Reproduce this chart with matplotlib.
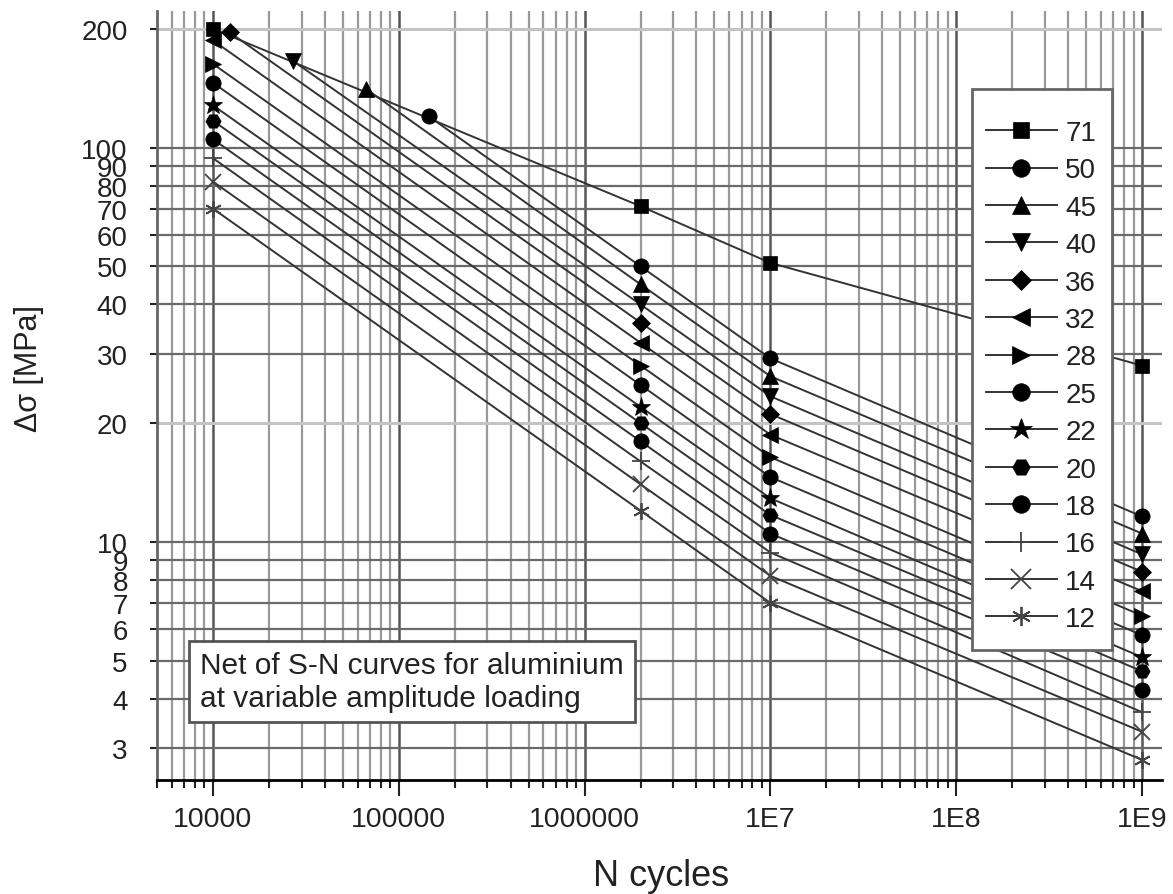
import numpy as np
import matplotlib
matplotlib.use("Agg")
import matplotlib.pyplot as plt
from matplotlib import ticker
from matplotlib.patches import Rectangle

plt.rcParams["font.family"] = ["Liberation Sans", "DejaVu Sans"]

# detail categories (legend order)
categories = ["71", "50", "45", "40", "36", "32", "28", "25", "22", "20", "18", "16", "14", "12"]

# first point of each curve (N, stress range) - high categories start on the 71 line
n_first = [1e4, 145000, 66500, 26900, 12300, 1e4, 1e4, 1e4, 1e4, 1e4, 1e4, 1e4, 1e4, 1e4]
s_first = [200, 120, 141, 166, 196, 187, 163, 146, 128, 117, 105, 94, 82, 70]

# knee points at 2E6, 1E7 and 1E9 cycles
n_knees = [2e6, 1e7, 1e9]
s_2e6 = [71, 50, 45, 40, 36, 32, 28, 25, 22, 20, 18, 16, 14, 12]
s_1e7 = [51, 29.2, 26.3, 23.4, 21.1, 18.7, 16.4, 14.6, 12.9, 11.7, 10.5, 9.4, 8.2, 7.0]
s_1e9 = [28, 11.6, 10.5, 9.3, 8.4, 7.5, 6.5, 5.8, 5.1, 4.7, 4.2, 3.7, 3.3, 2.8]

x_tick_vals = [1e4, 1e5, 1e6, 1e7, 1e8, 1e9]
x_tick_labels = ["10000", "100000", "1000000", "1E7", "1E8", "1E9"]
y_tick_vals = [3, 4, 5, 6, 7, 8, 9, 10, 20, 30, 40, 50, 60, 70, 80, 90, 100, 200]

# marker styles per series
markers = ["s", "o", "^", "v", "D", "<", ">", "o", "*", "H", "o", "+", "x", (6, 2, 0)]
msizes = [10.5, 11, 11, 11, 9, 11, 11, 11, 14, 11, 11, 13, 12, 12]

W, H = 1173, 895
fig = plt.figure(figsize=(W / 100, H / 100), dpi=100)
ax = fig.add_axes([157 / W, 1 - 781 / H, (1162 - 157) / W, (781 - 12) / H])
ax.set_xscale("log")
ax.set_yscale("log")
ax.set_xlim(5000, 1.28e9)
ax.set_ylim(2.49, 222)

for i, cat in enumerate(categories):
    xs = [n_first[i]] + n_knees
    ys = [s_first[i], s_2e6[i], s_1e7[i], s_1e9[i]]
    thin = markers[i] in ("+", "x", (6, 2, 0))
    ax.plot(xs, ys, color="#333", lw=1.4, marker=markers[i], markersize=msizes[i],
            markerfacecolor="black", markeredgecolor="#444" if thin else "black",
            markeredgewidth=1.3 if thin else 0.5, label=cat, zorder=3)

# ticks
ax.set_xticks(x_tick_vals, x_tick_labels)
ax.xaxis.set_minor_locator(ticker.LogLocator(base=10, subs=np.arange(2, 10), numticks=100))
ax.xaxis.set_minor_formatter(ticker.NullFormatter())
ax.set_yticks(y_tick_vals, [str(v) for v in y_tick_vals])
ax.yaxis.set_minor_locator(ticker.FixedLocator([10, 100]))
ax.yaxis.set_minor_formatter(ticker.NullFormatter())

ax.tick_params(axis="x", which="major", length=11.5, width=1.5, pad=7, labelsize=20.5,
               colors="#222", direction="out")
ax.tick_params(axis="x", which="minor", length=5.5, width=1.5, direction="out", color="#222")
ax.tick_params(axis="y", which="major", length=5, width=1.5, pad=16, labelsize=20,
               colors="#222", direction="out")
ax.tick_params(axis="y", which="minor", length=12, width=1.5, direction="out", color="#222")

# grid
ax.grid(axis="y", which="major", color="#6a6a6a", lw=1.6)
ax.grid(axis="x", which="major", color="#555", lw=1.8)
ax.grid(axis="x", which="minor", color="#999", lw=1.6)
ax.set_axisbelow(True)
# 20 and 200 lines come out lighter in the original
for val, gl in zip(y_tick_vals, ax.get_ygridlines()):
    if val in (20, 200):
        gl.set_color("#c4c4c4")
        gl.set_linewidth(2.2)

for side in ["top", "right"]:
    ax.spines[side].set_visible(False)
ax.spines["left"].set_color("#666")
ax.spines["left"].set_linewidth(2)
ax.spines["bottom"].set_color("black")
ax.spines["bottom"].set_linewidth(2)

# legend frame drawn separately so the box size matches the original
ax.add_patch(Rectangle((972 / W, 1 - 651 / H), 140 / W, 561 / H, transform=fig.transFigure,
                       facecolor="white", edgecolor="#666", lw=2, zorder=4, clip_on=False))
leg = ax.legend(loc="upper left", bbox_to_anchor=(986 / W, 1 - 121 / H),
                bbox_transform=fig.transFigure, borderaxespad=0, fontsize=20,
                handlelength=2.55, handletextpad=0.3, labelspacing=0.41,
                borderpad=0, frameon=False, numpoints=1, markerscale=1.15)
leg.set_zorder(5)
for t in leg.get_texts():
    t.set_color("#222")

# note box
fig.text(200 / W, 1 - 682.5 / H,
         "Net of S-N curves for aluminium\nat variable amplitude loading",
         ha="left", va="center", fontsize=21.5, color="#222", multialignment="left",
         bbox=dict(boxstyle="square,pad=0.36", fc="white", ec="#555", lw=2))

# axis titles
fig.text(29 / W, 1 - 368 / H, "Δσ [MPa]", rotation=90, ha="center", va="center",
         fontsize=22, color="#222")
fig.text(661 / W, 1 - 886 / H, "N cycles", ha="center", va="baseline",
         fontsize=26, color="#222")

fig.savefig("out.png", dpi=100)
